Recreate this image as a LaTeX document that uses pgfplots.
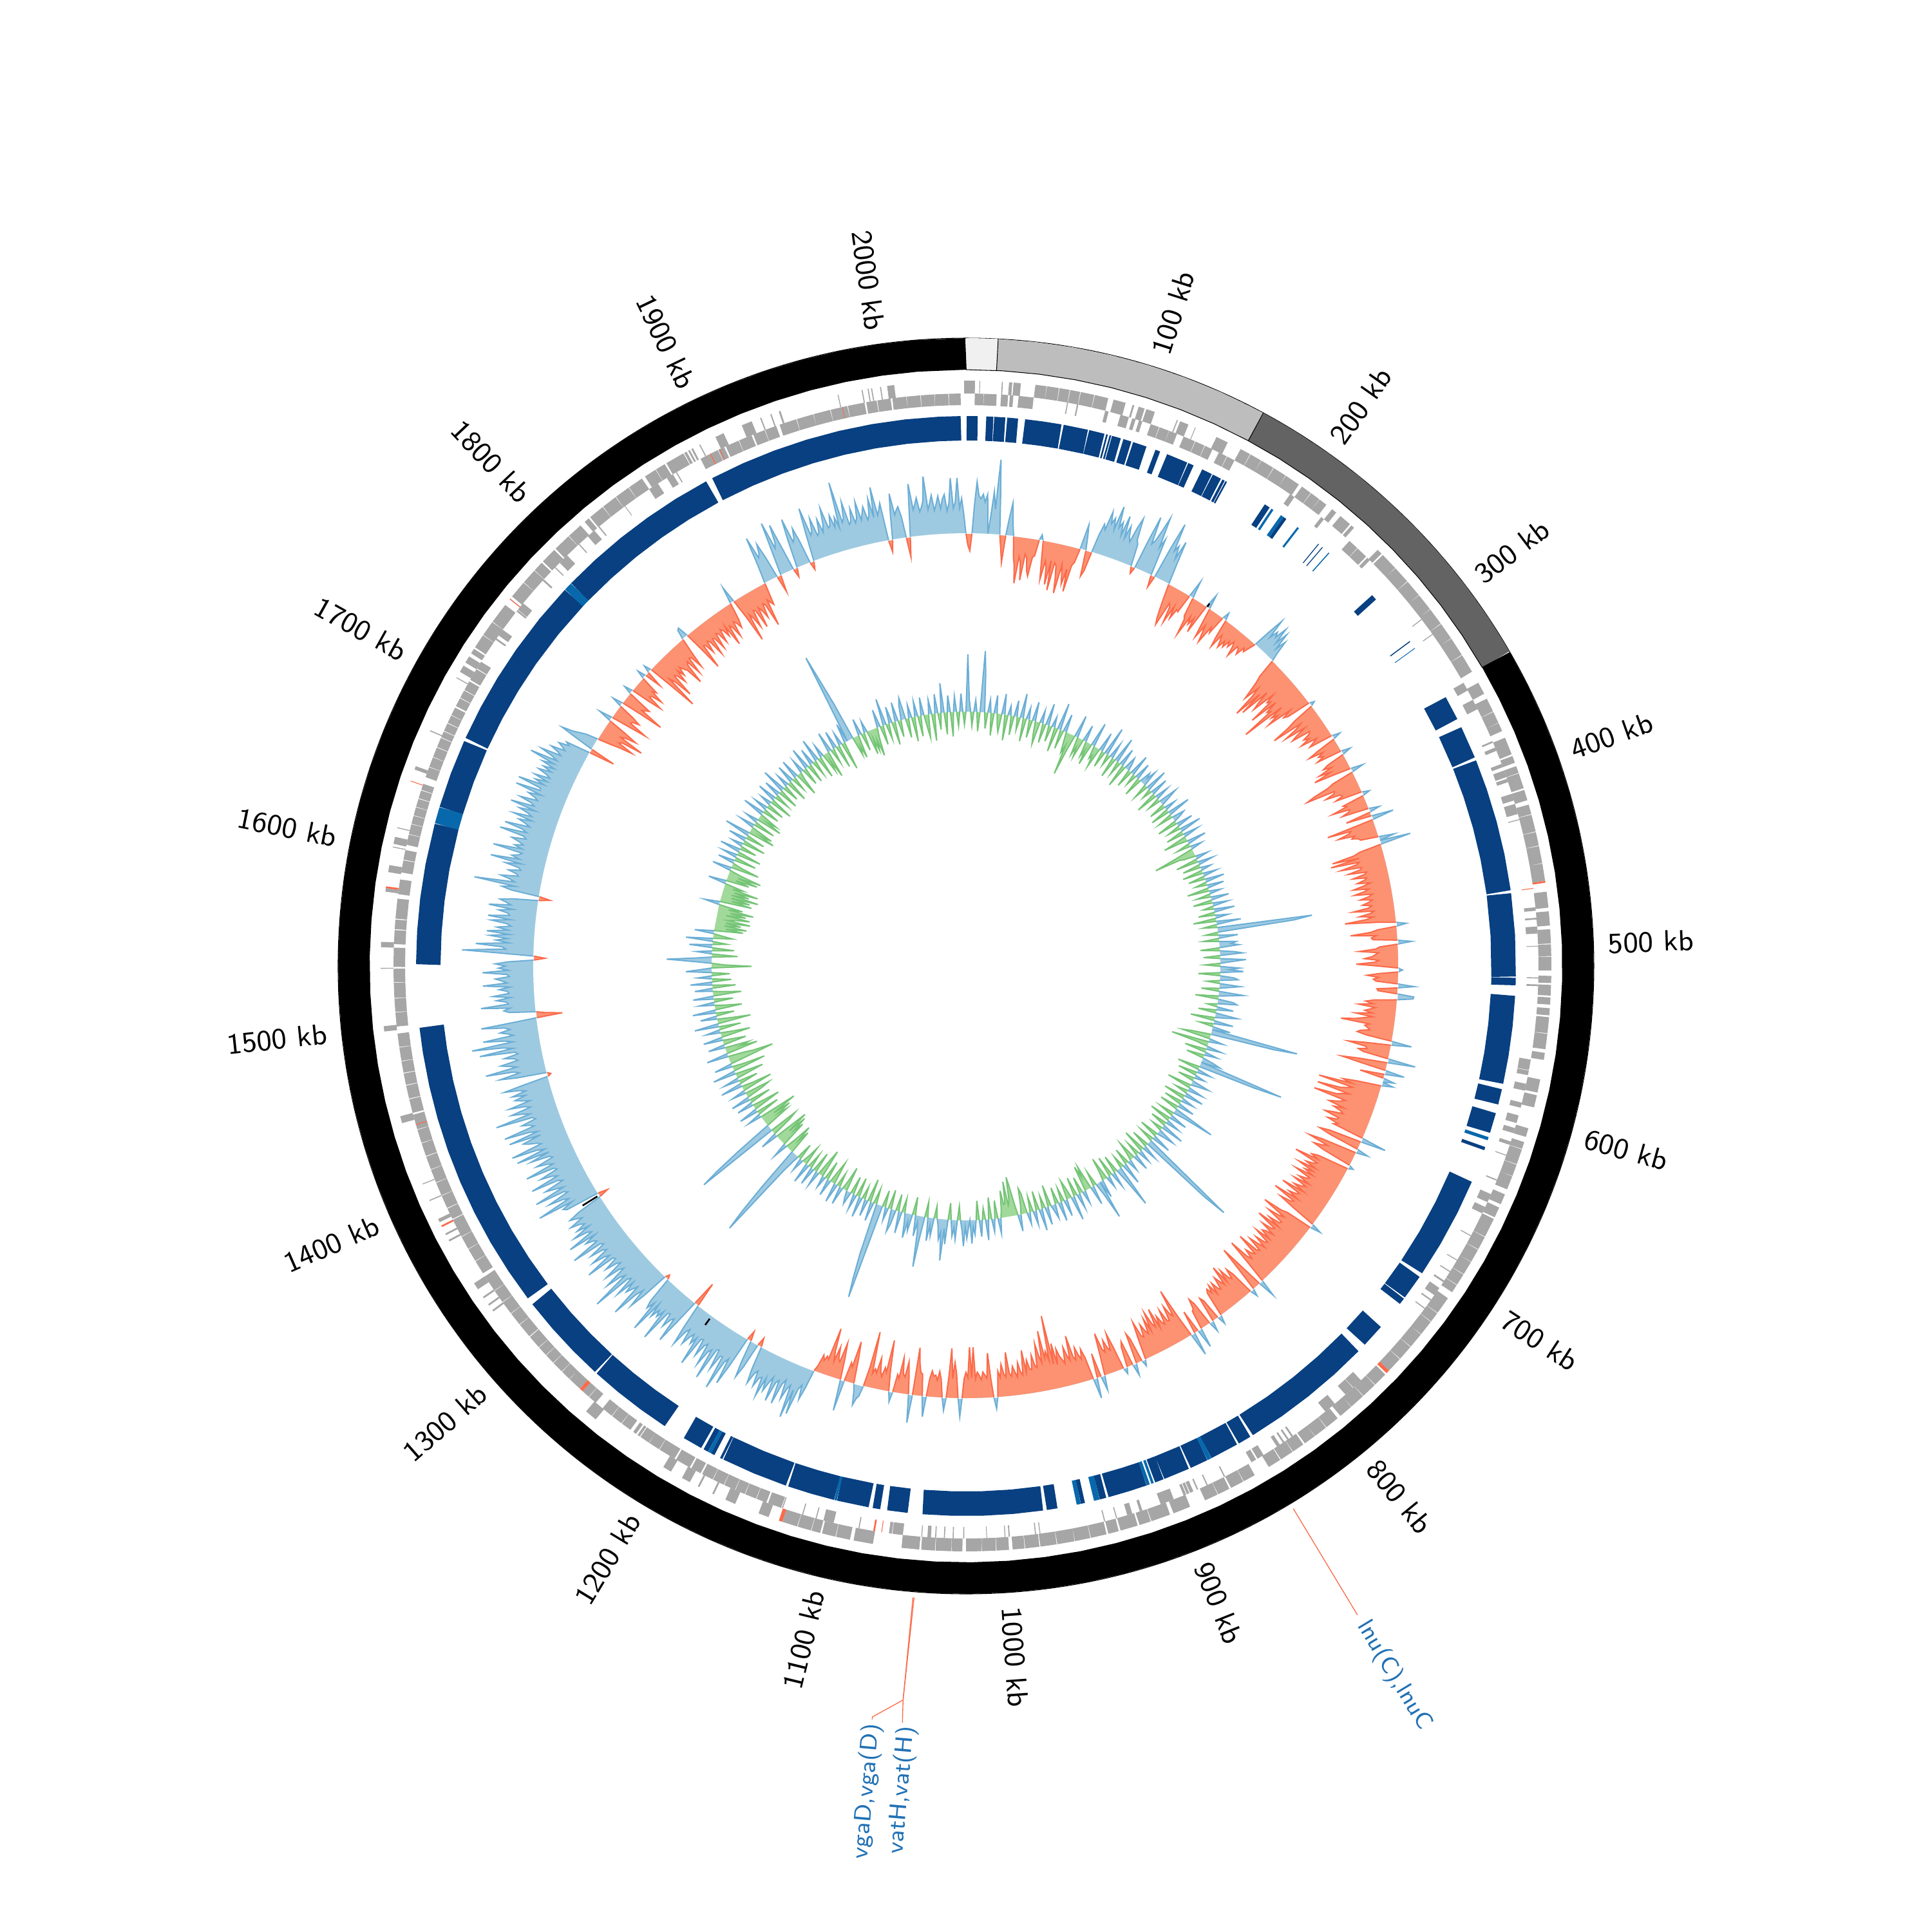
\documentclass[border=0pt]{standalone}
\usepackage{pgfplots}
\usepackage{pgfplotstable}
\usepgfplotslibrary{polar}
\pgfplotsset{compat=1.18,table/x index=0,table/y index=0}
\definecolor{gcup}{HTML}{9ECAE1}
\definecolor{gcupl}{HTML}{6BAED6}
\definecolor{gcdn}{HTML}{FC9272}
\definecolor{gcdnl}{HTML}{FB6A4A}
\definecolor{skdn}{HTML}{A1D99B}
\definecolor{skdnl}{HTML}{74C476}
\definecolor{hit}{HTML}{084081}
\definecolor{hitl}{HTML}{0868AC}
\definecolor{gene}{HTML}{A6A6A6}
\definecolor{lab}{HTML}{2171B5}
% 1 px of the 3000 px picture is 0.1897pt; radii are in px, positions in kb
\def\KB{90-\thisrowno{0}*0.17595}
\def\GX{90-\coordindex*1.5*0.17595}
\def\SX{90-\coordindex*2*0.17595}
% GC content, one value every 1.5 kb, twenty values = 30 kb on each line
\pgfplotstableread[row sep=\\,header=false]{
0\\-18\\-26\\0\\45\\81\\60\\55\\62\\50\\62\\0\\30\\67\\40\\117\\60\\0\\-20\\-42\\
0\\28\\52\\20\\0\\-30\\-45\\-72\\-30\\-38\\-66\\-25\\-30\\-50\\-58\\-28\\-25\\0\\9\\0\\
-32\\-60\\-30\\-40\\-66\\-28\\-74\\-30\\-34\\-52\\-76\\-30\\-45\\-60\\-35\\-70\\-28\\-22\\0\\40\\
22\\0\\-40\\-30\\0\\30\\48\\40\\70\\52\\62\\45\\83\\50\\60\\40\\72\\38\\58\\42\\
35\\60\\76\\42\\36\\0\\-10\\0\\50\\88\\45\\52\\70\\93\\45\\60\\0\\-18\\0\\55\\
94\\50\\60\\40\\70\\30\\0\\-22\\-40\\-55\\-64\\-25\\-30\\-55\\-26\\-45\\-28\\-30\\0\\28\\
0\\-30\\-35\\-60\\-26\\-38\\-26\\-48\\0\\23\\0\\-26\\-48\\-25\\-38\\-51\\-22\\-30\\0\\12\\
0\\-28\\-45\\-22\\-30\\-40\\-26\\-35\\-22\\-30\\-18\\-25\\-40\\-20\\-22\\-30\\-15\\-20\\-10\\0\\
30\\55\\24\\38\\30\\50\\24\\45\\18\\35\\14\\0\\-30\\-40\\-55\\-70\\-45\\-60\\-96\\-50\\
-88\\-40\\-60\\-72\\-35\\-50\\-45\\-85\\-40\\-60\\-55\\-107\\-38\\-60\\-50\\-70\\-30\\-45\\-38\\0\\
8\\0\\-35\\-50\\-78\\-30\\-40\\-62\\-28\\-45\\-55\\-25\\-28\\-40\\-32\\-48\\-22\\-30\\-38\\0\\
13\\0\\-30\\-48\\-25\\-35\\-28\\-40\\0\\15\\0\\-28\\-38\\-25\\-48\\-30\\-59\\-28\\0\\20\\
0\\-35\\-45\\-70\\-83\\-38\\-40\\-55\\-32\\-30\\-42\\0\\12\\0\\-35\\-30\\-55\\-28\\-30\\-42\\
0\\17\\0\\-40\\0\\35\\0\\-75\\-38\\-42\\-60\\-35\\-40\\-30\\-28\\0\\25\\0\\49\\0\\
-35\\-45\\-80\\-38\\-84\\-40\\-45\\-70\\-38\\-40\\-60\\-32\\-36\\-55\\-34\\-38\\-50\\-30\\-42\\-58\\
-34\\-42\\-58\\-30\\-36\\-50\\-32\\-38\\-48\\-34\\-40\\-64\\-32\\-38\\-55\\-34\\-46\\-79\\-30\\0\\
16\\0\\-30\\-40\\-72\\-32\\-40\\-38\\0\\22\\0\\-28\\-34\\-60\\-30\\-35\\-40\\-52\\-30\\-36\\
-65\\-32\\0\\7\\0\\-30\\-48\\-30\\-38\\-34\\0\\26\\0\\-32\\-30\\0\\26\\25\\0\\-35\\
-48\\-36\\-58\\-32\\-40\\-48\\-36\\-62\\-35\\-48\\-60\\-83\\-38\\-45\\-40\\-36\\-50\\-55\\-40\\0\\
32\\0\\-40\\-66\\-38\\-35\\-48\\-40\\0\\44\\0\\-45\\-71\\-40\\0\\31\\0\\-38\\0\\18\\
0\\18\\0\\-38\\-60\\-45\\-97\\-42\\-50\\-60\\-96\\-44\\-55\\-62\\-98\\-46\\-52\\-60\\-70\\-44\\
-60\\-48\\-42\\-58\\-70\\-46\\-48\\-62\\-44\\-50\\0\\40\\0\\-52\\-67\\-48\\0\\19\\0\\-55\\
-77\\-44\\-52\\-65\\-46\\0\\8\\0\\-50\\-60\\-48\\-85\\-46\\-50\\-62\\-44\\-72\\-45\\-58\\-42\\
-71\\-44\\-48\\-60\\-40\\-65\\-42\\-48\\-60\\-40\\-77\\-44\\-48\\-60\\-42\\-82\\-45\\-48\\-66\\-40\\
0\\17\\0\\-42\\-52\\-82\\-42\\-50\\-68\\-40\\-42\\-60\\-40\\-76\\-42\\-45\\-62\\-38\\-50\\-55\\
-38\\-62\\-36\\-40\\-55\\-34\\-46\\-60\\-36\\-40\\-73\\-38\\-42\\-52\\-36\\-44\\-75\\-36\\0\\28\\
0\\-40\\-75\\-38\\0\\12\\0\\-38\\-50\\-34\\-38\\-55\\-36\\-65\\-34\\-42\\-52\\-32\\-36\\-48\\
-30\\-48\\-36\\-45\\-40\\0\\14\\0\\-34\\-40\\0\\17\\0\\-38\\-48\\-32\\-30\\0\\31\\0\\
-36\\0\\37\\0\\-34\\-82\\-40\\-45\\-60\\-36\\-38\\-58\\-35\\-40\\-52\\-34\\-67\\-38\\-45\\-66\\
-36\\-58\\-34\\-40\\-52\\-32\\-36\\-60\\-34\\0\\10\\0\\-38\\-48\\0\\19\\0\\-40\\-32\\0\\
10\\0\\-36\\-60\\-34\\-38\\-52\\-34\\-40\\-66\\-32\\0\\23\\0\\-38\\0\\32\\0\\-36\\-50\\
-35\\-42\\-55\\-36\\-42\\-76\\-38\\-46\\-60\\-35\\-42\\-48\\-60\\-36\\-70\\-38\\-115\\-45\\-60\\-50\\
-93\\-44\\-55\\-75\\-38\\-42\\-58\\-36\\-38\\-52\\-34\\-68\\-30\\-35\\-50\\-28\\-36\\-45\\-30\\-35\\
-68\\-30\\-35\\-50\\-30\\-40\\0\\18\\0\\-30\\-69\\-30\\-35\\-40\\-28\\-35\\-40\\-30\\-79\\-32\\
-79\\-32\\-40\\-30\\0\\29\\0\\-38\\-55\\-30\\-77\\-34\\0\\20\\0\\-28\\-40\\-26\\-34\\-32\\
-40\\-28\\0\\32\\0\\-34\\-36\\-50\\-74\\0\\44\\0\\-30\\-50\\-26\\-30\\-55\\-22\\-28\\0\\
16\\0\\-30\\-79\\-28\\-35\\-20\\-28\\-48\\-24\\-30\\-22\\-87\\-30\\0\\17\\22\\33\\12\\0\\
-40\\-65\\-24\\-30\\0\\49\\0\\-35\\-57\\-26\\-30\\-48\\-24\\-40\\-75\\-24\\-28\\-20\\-28\\-9\\
0\\30\\50\\28\\36\\78\\40\\86\\35\\42\\60\\30\\38\\72\\35\\40\\72\\34\\45\\60\\
40\\72\\42\\45\\60\\36\\42\\60\\38\\0\\-13\\0\\40\\60\\36\\0\\-15\\0\\50\\83\\
42\\50\\97\\44\\45\\70\\38\\40\\92\\44\\50\\75\\40\\45\\65\\38\\40\\87\\42\\55\\
40\\48\\62\\38\\45\\70\\40\\0\\-39\\0\\40\\79\\40\\45\\60\\38\\40\\91\\42\\55\\
45\\60\\38\\91\\42\\55\\44\\0\\-6\\0\\45\\70\\40\\52\\94\\42\\50\\60\\42\\72\\
40\\45\\106\\44\\52\\75\\38\\45\\68\\36\\42\\60\\38\\40\\86\\42\\50\\70\\40\\45\\
65\\38\\42\\90\\44\\48\\60\\40\\85\\42\\48\\70\\40\\60\\44\\50\\65\\42\\50\\60\\
42\\0\\-15\\0\\55\\60\\42\\98\\44\\52\\75\\40\\45\\92\\42\\55\\70\\38\\45\\88\\
42\\50\\68\\38\\42\\87\\40\\48\\65\\36\\40\\70\\38\\90\\42\\55\\94\\44\\50\\62\\
70\\40\\90\\42\\55\\94\\44\\50\\62\\38\\42\\100\\44\\55\\72\\40\\48\\72\\38\\50\\
60\\42\\62\\40\\50\\72\\38\\0\\-5\\0\\48\\74\\42\\50\\94\\44\\55\\68\\40\\45\\
60\\38\\42\\97\\44\\60\\107\\42\\55\\88\\40\\48\\60\\44\\52\\88\\40\\0\\-40\\-15\\
0\\42\\50\\40\\85\\42\\45\\60\\38\\65\\40\\42\\55\\38\\80\\42\\50\\60\\38\\42\\
80\\40\\55\\44\\60\\40\\0\\-17\\0\\50\\112\\44\\50\\91\\40\\60\\42\\70\\40\\75\\
42\\60\\38\\45\\70\\40\\75\\42\\45\\60\\38\\76\\42\\50\\60\\40\\0\\-17\\0\\45\\
60\\40\\105\\42\\50\\65\\38\\42\\55\\36\\40\\62\\38\\87\\42\\55\\44\\40\\87\\42\\
55\\42\\50\\62\\40\\45\\84\\42\\50\\79\\40\\48\\60\\40\\71\\42\\50\\65\\40\\81\\
44\\50\\70\\42\\48\\60\\40\\83\\44\\45\\83\\42\\58\\40\\62\\38\\45\\60\\40\\55\\
38\\60\\42\\83\\40\\50\\70\\38\\45\\58\\36\\42\\50\\34\\40\\0\\-40\\0\\30\\58\\
40\\30\\20\\0\\-20\\-35\\-56\\-30\\-35\\-68\\-28\\-35\\-52\\-30\\0\\22\\0\\-30\\-58\\-28\\
-30\\-40\\-26\\0\\17\\0\\-32\\-69\\-30\\-35\\-40\\0\\14\\0\\-30\\-50\\-26\\-28\\-45\\-24\\
-30\\0\\14\\0\\-26\\0\\12\\0\\-40\\-83\\-30\\-40\\-69\\-32\\-35\\-50\\-30\\-42\\-28\\-35\\
-40\\-67\\-35\\-30\\-55\\-28\\-30\\-50\\-24\\0\\16\\18\\0\\-30\\-67\\-28\\-30\\-45\\-26\\-30\\
-55\\-28\\-30\\-50\\-25\\-28\\-45\\-24\\-28\\-40\\-24\\-59\\-28\\-32\\-50\\-26\\-30\\-40\\-28\\0\\
27\\0\\-30\\-73\\-30\\-38\\-55\\-28\\-30\\-60\\-28\\-35\\-48\\-26\\-30\\-66\\-24\\-30\\-35\\0\\
30\\75\\40\\45\\60\\36\\0\\-26\\0\\40\\86\\42\\50\\78\\38\\0\\-13\\0\\45\\79\\
40\\45\\60\\36\\0\\-12\\0\\45\\85\\40\\45\\65\\36\\40\\60\\38\\50\\75\\42\\45\\
60\\40\\55\\38\\109\\44\\50\\75\\38\\42\\62\\38\\45\\70\\40\\50\\60\\38\\45\\70\\
40\\87\\42\\50\\60\\0\\-18\\0\\40\\72\\38\\45\\50\\34\\0\\-30\\0\\40\\83\\42\\
50\\60\\38\\45\\55\\92\\40\\50\\62\\38\\48\\60\\40\\55\\62\\36\\48\\87\\40\\50\\
87\\40\\55\\30\\0\\
}\gctbl
% GC skew, one value every 2 kb, fifteen values = 30 kb on each line
\pgfplotstableread[row sep=\\,header=false]{
0\\89\\20\\0\\-22\\0\\18\\0\\-30\\0\\95\\60\\0\\-25\\0\\
20\\0\\-35\\0\\28\\0\\-18\\-28\\0\\32\\0\\-40\\0\\15\\0\\
-30\\0\\25\\0\\-20\\0\\38\\0\\-36\\0\\18\\0\\-28\\0\\30\\
0\\-22\\-35\\0\\20\\0\\-30\\0\\34\\0\\-25\\0\\16\\0\\-38\\
0\\42\\0\\-30\\0\\28\\0\\-18\\-32\\-20\\-66\\-25\\0\\35\\0\\
-28\\-15\\-30\\0\\26\\0\\-24\\-12\\-35\\0\\38\\0\\-20\\-14\\-32\\
0\\30\\0\\-26\\0\\45\\0\\-18\\0\\24\\0\\-32\\0\\40\\0\\
-22\\0\\28\\0\\-36\\0\\20\\12\\0\\-28\\0\\33\\0\\-18\\0\\
26\\0\\-30\\0\\18\\10\\25\\0\\-24\\0\\35\\0\\-16\\0\\28\\
0\\-34\\0\\22\\0\\-20\\0\\30\\14\\0\\-26\\0\\18\\0\\-30\\
0\\36\\0\\-24\\0\\20\\12\\0\\-32\\0\\26\\0\\-20\\0\\34\\
0\\-28\\0\\24\\0\\-38\\-15\\0\\30\\0\\-22\\0\\18\\0\\-30\\
-65\\-25\\-18\\0\\20\\0\\-35\\0\\24\\0\\-28\\0\\16\\0\\-32\\
0\\22\\0\\-26\\0\\30\\0\\-18\\0\\26\\0\\-34\\0\\18\\0\\
-22\\0\\28\\0\\-30\\0\\24\\0\\-16\\0\\32\\0\\-26\\0\\20\\
0\\-36\\0\\38\\0\\-22\\0\\148\\120\\0\\-20\\0\\30\\0\\-24\\
0\\26\\18\\30\\0\\-30\\0\\22\\35\\0\\-26\\0\\40\\18\\0\\
-24\\0\\30\\14\\36\\0\\-34\\0\\22\\28\\0\\-20\\0\\32\\16\\
0\\-28\\0\\38\\20\\0\\-36\\0\\24\\30\\0\\-16\\0\\26\\0\\
-28\\0\\34\\18\\0\\-38\\0\\30\\0\\-22\\0\\28\\0\\137\\100\\
0\\-30\\-45\\0\\22\\0\\-59\\-20\\0\\24\\0\\-34\\0\\20\\0\\
-28\\0\\18\\30\\0\\135\\90\\0\\-35\\0\\22\\0\\-30\\0\\16\\
0\\-26\\0\\28\\12\\0\\-38\\0\\24\\0\\-20\\0\\30\\0\\-34\\
0\\20\\0\\-28\\0\\26\\0\\-30\\0\\67\\20\\0\\-24\\0\\28\\
0\\-34\\0\\22\\0\\-26\\0\\36\\0\\-18\\0\\28\\12\\0\\-30\\
0\\30\\0\\-24\\0\\159\\120\\0\\-28\\0\\24\\0\\-36\\0\\20\\
0\\-22\\0\\26\\0\\-30\\-12\\0\\18\\0\\-26\\0\\34\\0\\-20\\
0\\67\\25\\0\\-28\\0\\24\\0\\-32\\0\\18\\0\\-36\\-14\\0\\
28\\0\\61\\20\\0\\-24\\0\\30\\0\\-38\\-22\\-40\\0\\20\\0\\
-26\\0\\24\\0\\-30\\0\\38\\0\\-18\\-30\\0\\26\\0\\-22\\0\\
30\\0\\-26\\0\\22\\10\\0\\-34\\0\\28\\0\\-20\\0\\34\\0\\
-30\\0\\22\\0\\-24\\0\\18\\0\\-32\\-40\\-15\\0\\26\\0\\-20\\
-45\\-61\\-25\\-18\\-55\\-22\\-20\\-42\\-15\\0\\24\\0\\-28\\0\\20\\
0\\-34\\0\\32\\0\\-18\\0\\26\\0\\-30\\0\\22\\10\\36\\0\\
12\\28\\10\\40\\15\\0\\-22\\0\\30\\12\\25\\0\\-26\\0\\38\\
14\\64\\20\\32\\10\\0\\-20\\0\\28\\12\\36\\0\\-24\\0\\30\\
79\\25\\10\\32\\0\\-28\\0\\26\\12\\38\\14\\0\\-22\\0\\34\\
0\\-26\\0\\24\\35\\0\\-30\\0\\20\\0\\-26\\0\\150\\120\\80\\
0\\-24\\0\\30\\0\\-36\\0\\26\\0\\-20\\0\\32\\0\\-30\\0\\
24\\0\\-28\\0\\20\\12\\0\\-38\\-14\\0\\28\\0\\-22\\0\\30\\
0\\-36\\-20\\0\\26\\0\\-30\\0\\18\\0\\-44\\-25\\0\\24\\0\\
-32\\0\\28\\0\\-24\\0\\32\\0\\-30\\-12\\0\\20\\0\\-26\\0\\
30\\153\\120\\70\\0\\-38\\-20\\-45\\-18\\0\\24\\0\\-42\\-26\\-50\\
-20\\-55\\-30\\0\\28\\0\\-34\\-46\\0\\135\\105\\60\\0\\-40\\-25\\
-48\\-20\\-60\\-30\\0\\22\\0\\-36\\0\\30\\0\\-44\\-20\\0\\26\\
0\\-34\\0\\30\\0\\-28\\-40\\0\\22\\0\\-48\\-18\\0\\34\\0\\
-30\\0\\24\\0\\-44\\-22\\0\\36\\0\\-52\\-20\\0\\28\\0\\-40\\
-71\\-40\\-26\\0\\34\\0\\-50\\-24\\-38\\0\\26\\0\\-36\\-18\\0\\
30\\0\\-46\\-20\\0\\22\\0\\-34\\0\\38\\0\\-52\\-24\\0\\26\\
0\\-28\\0\\36\\0\\-42\\-18\\0\\24\\0\\-30\\0\\32\\0\\-44\\
-20\\0\\28\\0\\-36\\0\\34\\0\\-30\\0\\22\\0\\-28\\0\\40\\
18\\0\\-62\\-20\\0\\30\\70\\28\\0\\-40\\0\\24\\0\\-34\\0\\
36\\0\\-22\\0\\42\\0\\-30\\-15\\0\\30\\0\\-45\\-18\\-50\\-15\\
-40\\-16\\-54\\-18\\-30\\-52\\-15\\-45\\-20\\-56\\-16\\-38\\0\\24\\0\\
-50\\-18\\-46\\-16\\-58\\-15\\-42\\-18\\-55\\-14\\-30\\0\\28\\0\\-36\\
-14\\-48\\-16\\-52\\-18\\0\\30\\0\\-44\\-14\\0\\26\\0\\-34\\0\\
24\\0\\-38\\0\\32\\0\\-26\\0\\18\\0\\-36\\0\\28\\0\\-30\\
0\\40\\0\\-42\\-18\\-36\\0\\24\\0\\-34\\0\\20\\0\\-40\\-14\\
-30\\0\\34\\0\\-26\\0\\22\\0\\-28\\0\\18\\0\\-36\\0\\30\\
0\\-24\\0\\26\\0\\-32\\0\\38\\0\\-26\\0\\20\\0\\-34\\0\\
28\\0\\-22\\0\\30\\0\\-38\\-12\\0\\22\\0\\-28\\0\\34\\0\\
-30\\0\\26\\0\\-24\\0\\36\\0\\-34\\0\\20\\0\\-30\\-14\\-42\\
0\\32\\0\\-24\\0\\28\\0\\-36\\0\\20\\0\\-44\\0\\30\\0\\
144\\100\\60\\0\\-30\\-16\\-36\\0\\26\\0\\-28\\0\\18\\0\\-38\\
-14\\-34\\-18\\-44\\-16\\0\\28\\0\\-30\\0\\42\\0\\-24\\0\\26\\
0\\-36\\0\\30\\0\\-26\\0\\24\\34\\0\\-30\\0\\20\\0\\-38\\
0\\24\\0\\-32\\0\\28\\0\\-20\\-36\\0\\22\\0\\-42\\0\\30\\
0\\-26\\0\\46\\0\\-34\\0\\26\\0\\-38\\0\\24\\0\\-22\\0\\
28\\0\\-20\\0\\
}\skewtbl
% genes, start and end in kb, forward strand
\pgfplotstableread[row sep=\\,header=false]{
0\\5\\nan\\7.5\\7.9\\nan\\20\\20.6\\nan\\24\\25.8\\nan\\26.5\\30.6\\nan\\38.7\\45\\nan\\45.2\\52\\nan\\52.3\\58\\nan\\58.3\\64\\nan\\64.3\\72\\nan\\72.3\\80\\nan\\83\\90\\nan\\94\\95\\nan\\97.5\\101\\nan\\102\\107\\nan\\120\\120.6\\nan\\122\\127\\nan\\131\\131.4\\nan\\144\\151\\nan\\159\\165\\nan\\165.3\\172\\nan\\172.2\\180\\nan\\180.3\\188\\nan\\188.2\\197\\nan\\199\\205\\nan\\205.3\\211\\nan\\211.2\\216\\nan\\220\\223\\nan\\226\\233\\nan\\234\\236\\nan\\254\\257\\nan\\258\\268\\nan\\268.2\\278\\nan\\278.3\\288\\nan\\288.2\\298\\nan\\298.2\\308\\nan\\308.3\\318\\nan\\318.2\\329\\nan\\329.3\\340\\nan\\347\\354\\nan\\357\\365\\nan\\365.3\\372\\nan\\372.2\\377\\nan\\381\\391\\nan\\392\\396\\nan\\398\\402\\nan\\402.3\\411\\nan\\412\\418\\nan\\420.5\\426\\nan\\426.3\\436\\nan\\436.3\\444\\nan\\444.3\\454\\nan\\454.2\\464\\nan\\470\\479\\nan\\481\\489\\nan\\491\\499\\nan\\499.4\\506\\nan\\506.3\\514\\nan\\517\\521\\nan\\522\\528\\nan\\529\\533\\nan\\535\\539\\nan\\540\\549\\nan\\549.3\\558\\nan\\560\\564\\nan\\575\\582.5\\nan\\584\\591\\nan\\603\\608\\nan\\611\\615\\nan\\615.3\\624\\nan\\624.3\\631\\nan\\631.2\\639\\nan\\642\\648\\nan\\650\\656\\nan\\657\\668\\nan\\668.3\\676\\nan\\676.3\\684\\nan\\684.2\\692\\nan\\692.3\\699\\nan\\699.3\\704\\nan\\708\\718\\nan\\718.3\\724\\nan\\724.3\\733\\nan\\733.2\\742\\nan\\742.3\\751\\nan\\751.3\\760\\nan\\763\\771\\nan\\771.3\\780\\nan\\780.3\\789\\nan\\789.2\\797\\nan\\799\\807\\nan\\807.3\\815\\nan\\815.2\\822\\nan\\823\\830\\nan\\830.3\\838\\nan\\838.5\\846\\nan\\855\\862\\nan\\862.3\\870\\nan\\871\\878\\nan\\878.3\\886\\nan\\895\\905\\nan\\907\\918\\nan\\918.4\\925\\nan\\926\\936\\nan\\937\\943\\nan\\944\\953\\nan\\953.3\\962\\nan\\962.2\\972\\nan\\972.3\\981.5\\nan\\982\\990\\nan\\990.3\\997\\nan\\999\\1006\\nan\\1006.3\\1014\\nan\\1014.2\\1023\\nan\\1025\\1031\\nan\\1031.2\\1040\\nan\\1040.3\\1048\\nan\\1049\\1059\\nan\\1075\\1086\\nan\\1088\\1096\\nan\\1096.3\\1104\\nan\\1105\\1110\\nan\\1110.3\\1118\\nan\\1118.3\\1127\\nan\\1135\\1141\\nan\\1155\\1161\\nan\\1168\\1169\\nan\\1177\\1178\\nan\\1183\\1188\\nan\\1195\\1200\\nan\\1246\\1253\\nan\\1329\\1330\\nan\\1333\\1334\\nan\\1338\\1339\\nan\\1344\\1348\\nan\\1375\\1376\\nan\\1379\\1380\\nan\\1387\\1389\\nan\\1400\\1400.6\\nan\\1410\\1410.5\\nan\\1446\\1450\\nan\\1498\\1501\\nan\\1533\\1533.5\\nan\\1545\\1548\\nan\\1576\\1578\\nan\\1587\\1591\\nan\\1601\\1601.5\\nan\\1603\\1607\\nan\\1612\\1612.5\\nan\\1646\\1648\\nan\\1669\\1669.6\\nan\\1702\\1702.5\\nan\\1706\\1710\\nan\\1712\\1716\\nan\\1718\\1721\\nan\\1722\\1730\\nan\\1730.3\\1739\\nan\\1739.3\\1751\\nan\\1755\\1755.5\\nan\\1757\\1767\\nan\\1767.3\\1776\\nan\\1776.3\\1782\\nan\\1783\\1792\\nan\\1793\\1803\\nan\\1803.3\\1812\\nan\\1815\\1818\\nan\\1819\\1828\\nan\\1828.3\\1837\\nan\\1837.3\\1846\\nan\\1846.3\\1855\\nan\\1857\\1864\\nan\\1864.3\\1870\\nan\\1871\\1882\\nan\\1882.5\\1884\\nan\\1885\\1886\\nan\\1887\\1888\\nan\\1892\\1892.6\\nan\\1902\\1907\\nan\\1918\\1924\\nan\\1929\\1929.7\\nan\\1935\\1935.7\\nan\\1940\\1941\\nan\\1974\\1974.5\\nan\\1987.6\\1988.2\\nan\\1991\\1991.6\\nan\\1993\\1993.6\\nan\\1998\\1998.6\\nan\\2002\\2006\\nan\\2045\\2046\\
}\geneout
% genes, reverse strand
\pgfplotstableread[row sep=\\,header=false]{
5\\10\\nan\\10.2\\17.5\\nan\\20\\24\\nan\\25\\27\\nan\\30\\38.6\\nan\\57.8\\58.4\\nan\\63.5\\64.3\\nan\\80\\82\\nan\\89\\94\\nan\\96\\98\\nan\\100\\102\\nan\\107\\112\\nan\\112.3\\118\\nan\\118.2\\123\\nan\\127\\134\\nan\\134.3\\140\\nan\\140.3\\145\\nan\\149\\154\\nan\\154.3\\159\\nan\\196\\199\\nan\\218\\220\\nan\\239\\245\\nan\\245.3\\252\\nan\\253\\255\\nan\\299.5\\300\\nan\\310\\310.5\\nan\\343\\348\\nan\\354\\360\\nan\\380\\381\\nan\\384\\386\\nan\\394\\396\\nan\\398\\402\\nan\\403\\405\\nan\\412\\416\\nan\\418\\424\\nan\\427\\427.5\\nan\\478\\480\\nan\\484\\485\\nan\\489\\493\\nan\\500\\500.4\\nan\\518\\518.6\\nan\\522\\523\\nan\\565\\571\\nan\\571.3\\574\\nan\\579\\583\\nan\\590\\593\\nan\\597.5\\602\\nan\\605\\608\\nan\\613\\615\\nan\\621\\621.5\\nan\\636\\636.7\\nan\\645\\650\\nan\\653\\657\\nan\\671\\671.5\\nan\\687\\687.5\\nan\\694.6\\695.2\\nan\\701\\702\\nan\\706\\711\\nan\\714\\714.8\\nan\\720\\720.6\\nan\\775\\781\\nan\\781.3\\787\\nan\\795\\802\\nan\\825\\826\\nan\\828\\829\\nan\\831\\832\\nan\\834\\836\\nan\\845\\849\\nan\\850\\853\\nan\\870\\870.7\\nan\\881\\881.7\\nan\\887\\887.8\\nan\\890\\892\\nan\\892.5\\894\\nan\\894.5\\896\\nan\\902\\910\\nan\\921\\922.5\\nan\\927\\930\\nan\\936\\936.6\\nan\\943\\943.6\\nan\\980.5\\981\\nan\\983\\983.6\\nan\\998\\998.7\\nan\\1000.5\\1001\\nan\\1011\\1011.4\\nan\\1024\\1024.6\\nan\\1030\\1030.6\\nan\\1035\\1035.6\\nan\\1040\\1040.6\\nan\\1043\\1045\\nan\\1048\\1048.5\\nan\\1059\\1065\\nan\\1065.3\\1067\\nan\\1084\\1084.6\\nan\\1099\\1105\\nan\\1109\\1109.6\\nan\\1117\\1117.6\\nan\\1129\\1129.6\\nan\\1130\\1138\\nan\\1139\\1145\\nan\\1145.3\\1152\\nan\\1152.3\\1158\\nan\\1158.3\\1165\\nan\\1165.3\\1172\\nan\\1172.3\\1179\\nan\\1180\\1186\\nan\\1187\\1196\\nan\\1197\\1207\\nan\\1207.3\\1214\\nan\\1214.2\\1220\\nan\\1220.5\\1222\\nan\\1223\\1225\\nan\\1227\\1233\\nan\\1233.3\\1240\\nan\\1240.3\\1247\\nan\\1252\\1257\\nan\\1257.3\\1262\\nan\\1264\\1272\\nan\\1272.2\\1278\\nan\\1278.3\\1285\\nan\\1285.3\\1291\\nan\\1291.3\\1297\\nan\\1297.3\\1305\\nan\\1305.5\\1314\\nan\\1314.3\\1322\\nan\\1322.3\\1330\\nan\\1330.3\\1338\\nan\\1338.3\\1348\\nan\\1350\\1358\\nan\\1358.3\\1366\\nan\\1366.3\\1374\\nan\\1374.3\\1385\\nan\\1385.5\\1392\\nan\\1392.4\\1400\\nan\\1400.3\\1408\\nan\\1408.3\\1416\\nan\\1416.3\\1424\\nan\\1424.4\\1432\\nan\\1432.3\\1440\\nan\\1440.3\\1449\\nan\\1450\\1458\\nan\\1458.4\\1466\\nan\\1466.4\\1473\\nan\\1473.4\\1480\\nan\\1480.3\\1488\\nan\\1488.3\\1496\\nan\\1500\\1508\\nan\\1508.3\\1516\\nan\\1516.3\\1525\\nan\\1525.3\\1533\\nan\\1534\\1545\\nan\\1547\\1555\\nan\\1555.5\\1561\\nan\\1561.5\\1573\\nan\\1575.5\\1584\\nan\\1588\\1595\\nan\\1595.4\\1601\\nan\\1604\\1610\\nan\\1610.3\\1616\\nan\\1616.3\\1621\\nan\\1621.3\\1626\\nan\\1626.3\\1631\\nan\\1631.4\\1636\\nan\\1636.4\\1640\\nan\\1644\\1650\\nan\\1650.3\\1656\\nan\\1656.3\\1662\\nan\\1662.4\\1668\\nan\\1668.4\\1672\\nan\\1672.4\\1677\\nan\\1677.4\\1682\\nan\\1682.3\\1687\\nan\\1688\\1693\\nan\\1693.4\\1698\\nan\\1698.4\\1704\\nan\\1705\\1712\\nan\\1712.5\\1717\\nan\\1732\\1733\\nan\\1735\\1739\\nan\\1752\\1753\\nan\\1753.3\\1758\\nan\\1775\\1776\\nan\\1785\\1785.6\\nan\\1789\\1795\\nan\\1804\\1804.6\\nan\\1811\\1816\\nan\\1819\\1819.7\\nan\\1838\\1838.4\\nan\\1855\\1861\\nan\\1867\\1871\\nan\\1873\\1873.6\\nan\\1889\\1895\\nan\\1895.3\\1900\\nan\\1900.3\\1904\\nan\\1905\\1913\\nan\\1913.3\\1921\\nan\\1922\\1929\\nan\\1929.3\\1936\\nan\\1938\\1948\\nan\\1948.3\\1958\\nan\\1958.2\\1968\\nan\\1968.3\\1978\\nan\\1978.3\\1988\\nan\\1989\\1995\\nan\\1995.4\\2003\\nan\\2004\\2012\\nan\\2012.2\\2020\\nan\\2020.3\\2028\\nan\\2028.2\\2036\\nan\\2036.3\\2043\\
}\genein
% sequence hits, dark
\pgfplotstableread[row sep=\\,header=false]{
0.4\\7\\nan\\12\\16.3\\nan\\16.7\\23.4\\nan\\24.4\\31\\nan\\35\\46\\57\\nan\\58\\73\\nan\\73.5\\83\\nan\\84\\85\\nan\\86\\87\\nan\\87.5\\93\\nan\\94.5\\99.5\\nan\\100.5\\109\\nan\\114.5\\117.5\\nan\\121.8\\135\\nan\\135.5\\139\\nan\\144.5\\151\\nan\\151.5\\157\\nan\\158\\159.5\\nan\\160\\161\\nan\\187\\190.5\\nan\\200.5\\202.5\\nan\\226.5\\227\\nan\\229.4\\229.9\\nan\\270.5\\274\\nan\\305.7\\306.3\\nan\\345\\360\\nan\\365\\385\\nan\\386.5\\405\\425\\445\\466.7\\nan\\468\\493\\518\\nan\\518.5\\523\\nan\\529\\547\\565\\582\\nan\\585\\594.5\\nan\\599.6\\612\\nan\\620.7\\622.7\\nan\\642.6\\663\\684\\704.8\\nan\\707\\722.3\\nan\\723\\727\\nan\\744.5\\759\\nan\\764\\784\\804\\824\\844.5\\nan\\846\\854\\nan\\855\\872.5\\nan\\875\\886\\nan\\887\\903\\nan\\903.3\\908.7\\nan\\914\\925\\937.7\\nan\\939\\943\\nan\\952\\954.5\\nan\\968.5\\975\\nan\\977\\995\\1013\\1031\\1049\\nan\\1057.5\\1070\\nan\\1074\\1078.6\\nan\\1080.8\\1100.3\\nan\\1101.8\\1116\\1130.4\\nan\\1131.5\\1152\\1172\\nan\\1172.5\\1174\\nan\\1177.7\\1180\\nan\\1182\\1185\\nan\\1186.5\\1198.6\\nan\\1211.6\\1229\\1246\\1263\\nan\\1264\\1282\\1300\\1319\\nan\\1323\\1343\\1363\\1383\\1403\\1423\\1443\\1463\\1483\\1498\\nan\\1535.4\\1555\\1575\\1595\\1620\\nan\\1630\\1651\\1672\\nan\\1673.6\\1694\\1714\\1734\\1757\\1780\\nan\\1785\\1805\\1825\\1845\\1865\\1886\\nan\\1889.6\\1910\\1930\\1950\\1970\\1990\\2010\\2030\\2043\\
}\hitdark
% sequence hits, lighter
\pgfplotstableread[row sep=\\,header=false]{
191.8\\193.2\\nan\\198.5\\200.5\\nan\\210.5\\211.7\\nan\\234.4\\235\\nan\\310.8\\311.2\\nan\\614.5\\616.5\\nan\\872.5\\875\\nan\\909.5\\911\\nan\\912\\914\\nan\\943\\946.5\\nan\\954.5\\957\\nan\\1100.3\\1101.8\\nan\\1180\\1182\\nan\\1620\\1630\\nan\\1780\\1785\\
}\hitlight
\begin{document}
\begin{tikzpicture}
\path[use as bounding box] (-10cm,-10cm) rectangle (10cm,10cm);
\begin{polaraxis}[
  at={(0,0)},anchor=center,
  scale only axis,width=13cm,height=13cm,
  xmin=-270,xmax=90,ymin=0,ymax=975,
  clip=false,unbounded coords=jump,
  ytick=\empty,hide y axis,
  xtick={90,72.4047,...,-270},xticklabels={},
  minor xtick={88.2405,86.481,...,-270},
  tick align=outside,major tick length=0.8mm,minor tick length=0.35mm,
  xtick style={black,line width=0.35pt},
  minor x tick style={black,line width=0.3pt},
  grid=none,
  x axis line style={line width=0.2pt},
]
% outer ring
\addplot[line width=9.3pt,color=black!6] table[row sep=\\,header=false,x expr=\KB,y expr=950.5]{0\\5\\10\\16.7\\};
\addplot[line width=9.3pt,color=black!26] table[row sep=\\,header=false,x expr=\KB,y expr=950.5]{16.7\\36\\56\\76\\96\\116\\136\\160.6\\};
\addplot[line width=9.3pt,color=black!61] table[row sep=\\,header=false,x expr=\KB,y expr=950.5]{160.6\\180\\200\\220\\240\\260\\280\\300\\320\\340.8\\};
\addplot[line width=9.3pt,color=black] table[row sep=\\,header=false,x expr=\KB,y expr=950.5]{340.8\\360\\380\\400\\420\\440\\460\\480\\500\\520\\540\\560\\580\\600\\620\\640\\660\\680\\700\\720\\740\\760\\780\\800\\820\\840\\860\\880\\900\\920\\940\\960\\980\\1000\\1020\\1040\\1060\\1080\\1100\\1120\\1140\\1160\\1180\\1200\\1220\\1240\\1260\\1280\\1300\\1320\\1340\\1360\\1380\\1400\\1420\\1440\\1460\\1480\\1500\\1520\\1540\\1560\\1580\\1600\\1620\\1640\\1660\\1680\\1700\\1720\\1740\\1760\\1780\\1800\\1820\\1840\\1860\\1880\\1900\\1920\\1940\\1960\\1980\\2000\\2020\\2046\\};
\addplot[line width=0.2pt,color=black] table[row sep=\\,header=false,x expr=\KB,y expr=926]{0\\20\\40\\60\\80\\100\\120\\140\\160\\180\\200\\220\\240\\260\\280\\300\\320\\340.8\\};
\addplot[line width=0.2pt,color=black] coordinates {(87.06,926)(87.06,975)};
\addplot[line width=0.2pt,color=black] coordinates {(61.74,926)(61.74,975)};
% genes and hits
\addplot[line width=3.794pt,color=gene] table[x expr=\KB,y expr=899]{\geneout};
\addplot[line width=3.415pt,color=gene] table[x expr=\KB,y expr=880]{\genein};
\addplot[line width=3.794pt,color=gcdnl] table[row sep=\\,header=false,x expr=\KB,y expr=899]{464\\465\\nan\\760\\762\\nan\\1127\\1129\\nan\\1384\\1385\\nan\\1578\\1579\\nan\\1639\\1639.4\\nan\\1755\\1755.4\\};
\addplot[line width=3.415pt,color=gcdnl] table[row sep=\\,header=false,x expr=\KB,y expr=880]{467\\467.4\\nan\\1071\\1071.4\\nan\\1075\\1076\\nan\\1262\\1264\\nan\\1443\\1443.4\\nan\\1895\\1895.5\\nan\\1901\\1901.4\\nan\\1975\\1975.3\\};
\addplot[line width=7.21pt,color=hit] table[x expr=\KB,y expr=835]{\hitdark};
\addplot[line width=7.21pt,color=hitl] table[x expr=\KB,y expr=835]{\hitlight};
% GC content around r=671
\addplot[fill=gcup,draw=none] table[x expr=\GX,y expr={671+max(\thisrowno{0},0)}]{\gctbl};
\addplot[line width=0.38pt,color=gcupl] table[x expr=\GX,y expr={\thisrowno{0}<0 ? nan : 671+\thisrowno{0}}]{\gctbl};
\addplot[fill=gcdn,draw=none] table[x expr=\GX,y expr=671]{\gctbl};
\addplot[fill=white,draw=none] table[x expr=\GX,y expr={\thisrowno{0}<0 ? 671+\thisrowno{0} : 672}]{\gctbl};
\addplot[line width=0.38pt,color=gcdnl] table[x expr=\GX,y expr={\thisrowno{0}>0 ? nan : 671+\thisrowno{0}}]{\gctbl};
\addplot[line width=0.5pt,color=black] coordinates {(-148,675)(-148,702)};
\addplot[line width=0.5pt,color=black] coordinates {(-126,677)(-126,689)};
\addplot[line width=0.5pt,color=black] coordinates {(56.1,672)(56.1,678)};
% GC skew around r=395
\addplot[fill=gcup,line width=0.38pt,draw=gcupl] table[x expr=\SX,y expr={\thisrowno{0}<0 ? nan : 395+\thisrowno{0}}]{\skewtbl};
\addplot[fill=skdn,line width=0.38pt,draw=skdnl] table[x expr=\SX,y expr={\thisrowno{0}>0 ? nan : 395+\thisrowno{0}}]{\skewtbl};
% leader lines of the resistance genes
\addplot[line width=0.25pt,color=gcdnl] coordinates {(-58.9,984)(-58.9,1177)};
\addplot[line width=0.25pt,color=gcdnl] coordinates {(-94.8,984)(-94.9,1144)(-97.1,1175)(-97.1,1179)};
\addplot[line width=0.25pt,color=gcdnl] coordinates {(-94.7,984)(-94.9,1144)(-94.8,1179)};
\node[rotate=-58.9,anchor=west,text=lab,inner sep=0pt,font=\sffamily\fontsize{7}{7}\selectfont] at (axis cs:-58.9,1190) {lnu(C),lnuC};
\node[rotate=85,anchor=east,text=lab,inner sep=0pt,font=\sffamily\fontsize{7}{7}\selectfont] at (axis cs:-97,1184) {vgaD,vga(D)};
\node[rotate=85,anchor=east,text=lab,inner sep=0pt,font=\sffamily\fontsize{7}{7}\selectfont] at (axis cs:-94.4,1183) {vatH,vat(H)};
% position labels
\pgfplotsinvokeforeach{100,200,...,1000}{
  \node[rotate={90-#1*0.17595},anchor=west,inner sep=0pt,font=\sffamily\fontsize{8.6}{9}\selectfont] at (axis cs:{90-#1*0.17595},997) {#1 kb};
}
\pgfplotsinvokeforeach{1100,1200,...,2000}{
  \node[rotate={270-#1*0.17595},anchor=east,inner sep=0pt,font=\sffamily\fontsize{8.6}{9}\selectfont] at (axis cs:{90-#1*0.17595},997) {#1 kb};
}
\end{polaraxis}
\end{tikzpicture}
\end{document}
